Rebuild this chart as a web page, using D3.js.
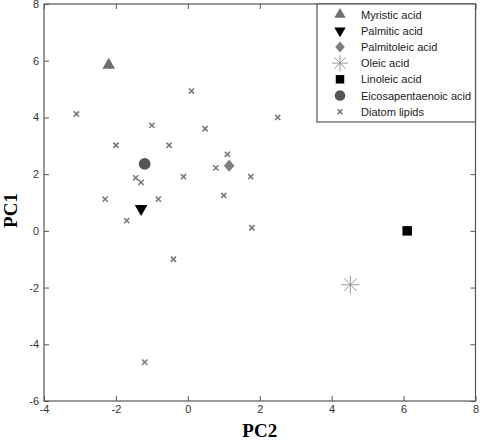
<!DOCTYPE html>
<html>
<head>
<meta charset="utf-8">
<script src="https://cdn.jsdelivr.net/npm/d3@7"></script>
<style>
  body { margin: 0; background: #fff; }
  svg text { font-family: Arial, "Liberation Sans", sans-serif; }
</style>
</head>
<body>
<svg id="chart" width="481" height="443"></svg>
<script>
// Fatty acid reference points (PC2, PC1)
const acidNames = ['Myristic acid', 'Palmitic acid', 'Palmitoleic acid', 'Oleic acid',
                   'Linoleic acid', 'Eicosapentaenoic acid'];
const acidPC2 = [-2.2, -1.3, 1.15, 4.52, 6.1, -1.2];
const acidPC1 = [5.85, 0.78, 2.3, -1.9, 0.0, 2.36];

// Diatom lipid samples
const diatomPC2 = [0.1, -3.1, 2.5, -1.0, 0.48, -2.0, -0.52, 1.1, 0.78, 1.75,
                   -0.12, -1.45, -1.3, 1.0, -2.3, -0.82, -1.7, 1.78, -0.4, -1.2];
const diatomPC1 = [4.93, 4.12, 4.0, 3.72, 3.6, 3.02, 3.02, 2.7, 2.22, 1.91,
                   1.91, 1.87, 1.71, 1.25, 1.12, 1.12, 0.36, 0.11, -1.0, -4.63];

const xTicks = [-4, -2, 0, 2, 4, 6, 8];
const yTicks = [-6, -4, -2, 0, 2, 4, 6, 8];

const svg = d3.select('#chart');
const pLeft = 44, pRight = 475.5, pTop = 4, pBottom = 401;

const x = d3.scaleLinear().domain([-4, 8]).range([pLeft, pRight]);
const y = d3.scaleLinear().domain([-6, 8]).range([pBottom, pTop]);

const frame = '#555';
const tickLen = 5;
const plain = d => String(d); // hyphen minus like the original

// axes (MATLAB-like, ticks pointing inward)
svg.append('g').attr('transform', `translate(0,${pBottom})`)
  .call(d3.axisBottom(x).tickValues(xTicks).tickSize(-tickLen).tickPadding(4).tickFormat(plain))
  .call(g => g.select('.domain').remove());
svg.append('g').attr('transform', `translate(0,${pTop})`)
  .call(d3.axisTop(x).tickValues(xTicks).tickSize(-tickLen).tickFormat(''))
  .call(g => g.select('.domain').remove());
svg.append('g').attr('transform', `translate(${pLeft},0)`)
  .call(d3.axisLeft(y).tickValues(yTicks).tickSize(-tickLen).tickPadding(5).tickFormat(plain))
  .call(g => g.select('.domain').remove());
svg.append('g').attr('transform', `translate(${pRight},0)`)
  .call(d3.axisRight(y).tickValues(yTicks).tickSize(-tickLen).tickFormat(''))
  .call(g => g.select('.domain').remove());

svg.selectAll('.tick line').attr('stroke', frame);
svg.selectAll('.tick text').attr('fill', '#333').style('font-size', '11px');

svg.append('rect')
  .attr('x', pLeft).attr('y', pTop)
  .attr('width', pRight - pLeft).attr('height', pBottom - pTop)
  .attr('fill', 'none').attr('stroke', frame).attr('stroke-width', 1.2);

// axis labels
svg.append('text')
  .attr('x', (pLeft + pRight) / 2).attr('y', 437)
  .attr('text-anchor', 'middle')
  .style('font-family', '"Liberation Serif", "Times New Roman", serif')
  .style('font-weight', 'bold').style('font-size', '19px')
  .text('PC2');
svg.append('text')
  .attr('transform', `translate(17,${(pTop + pBottom) / 2 + 8}) rotate(-90)`)
  .attr('text-anchor', 'middle')
  .style('font-family', '"Liberation Serif", "Times New Roman", serif')
  .style('font-weight', 'bold').style('font-size', '19px')
  .text('PC1');

// wider diamond than d3's default
const wideDiamond = {
  draw(ctx, size) {
    const h = Math.sqrt(size * 0.85), w = h * 0.85;
    ctx.moveTo(0, -h); ctx.lineTo(w, 0); ctx.lineTo(0, h); ctx.lineTo(-w, 0); ctx.closePath();
  }
};

// marker styles per acid
const styles = [
  { sym: d3.symbolTriangle, size: 70, fill: '#6e6e6e', rot: 0 },
  { sym: d3.symbolTriangle, size: 70, fill: '#000', rot: 180 },
  { sym: wideDiamond, size: 45, fill: '#808080', rot: 0 },
  { sym: 'star', size: 9, fill: '#999', rot: 0 },
  { sym: d3.symbolSquare, size: 90, fill: '#000', rot: 0 },
  { sym: d3.symbolCircle, size: 110, fill: '#555', rot: 0 }
];

function drawMarker(g, s, cx, cy) {
  if (s.sym === 'star') {
    const r = s.size;
    const grp = g.append('g').attr('transform', `translate(${cx},${cy})`);
    for (let k = 0; k < 4; k++) {
      const a = k * Math.PI / 4;
      grp.append('line')
        .attr('x1', -r * Math.cos(a)).attr('y1', -r * Math.sin(a))
        .attr('x2', r * Math.cos(a)).attr('y2', r * Math.sin(a))
        .attr('stroke', s.fill).attr('stroke-width', 1);
    }
  } else {
    g.append('path')
      .attr('d', d3.symbol(s.sym, s.size)())
      .attr('transform', `translate(${cx},${cy}) rotate(${s.rot})`)
      .attr('fill', s.fill);
  }
}

function drawCross(g, cx, cy, r) {
  g.append('path')
    .attr('d', `M${cx - r},${cy - r}L${cx + r},${cy + r}M${cx - r},${cy + r}L${cx + r},${cy - r}`)
    .attr('stroke', '#7a7a7a').attr('stroke-width', 1.6).attr('fill', 'none');
}

const marks = svg.append('g');
diatomPC2.forEach((v, i) => drawCross(marks, x(v), y(diatomPC1[i]), 2.6));
acidPC2.forEach((v, i) => drawMarker(marks, styles[i], x(v), y(acidPC1[i])));

// legend
const lg = svg.append('g');
lg.append('rect')
  .attr('x', 317).attr('y', pTop)
  .attr('width', pRight - 317).attr('height', 118)
  .attr('fill', '#fff').attr('stroke', frame).attr('stroke-width', 1.2);
const rowY = d => 14.5 + d * 16.2;
const legendNames = acidNames.concat(['Diatom lipids']);
legendNames.forEach((name, i) => {
  const ly = rowY(i);
  if (i < styles.length) {
    const s = Object.assign({}, styles[i]);
    if (s.sym === 'star') s.size = 8; else s.size = s.size * 0.8;
    drawMarker(lg, s, 340, ly);
  } else {
    drawCross(lg, 340, ly, 2.4);
  }
  lg.append('text')
    .attr('x', 361).attr('y', ly + 4)
    .attr('fill', '#222').style('font-size', '11px')
    .text(name);
});
</script>
</body>
</html>
